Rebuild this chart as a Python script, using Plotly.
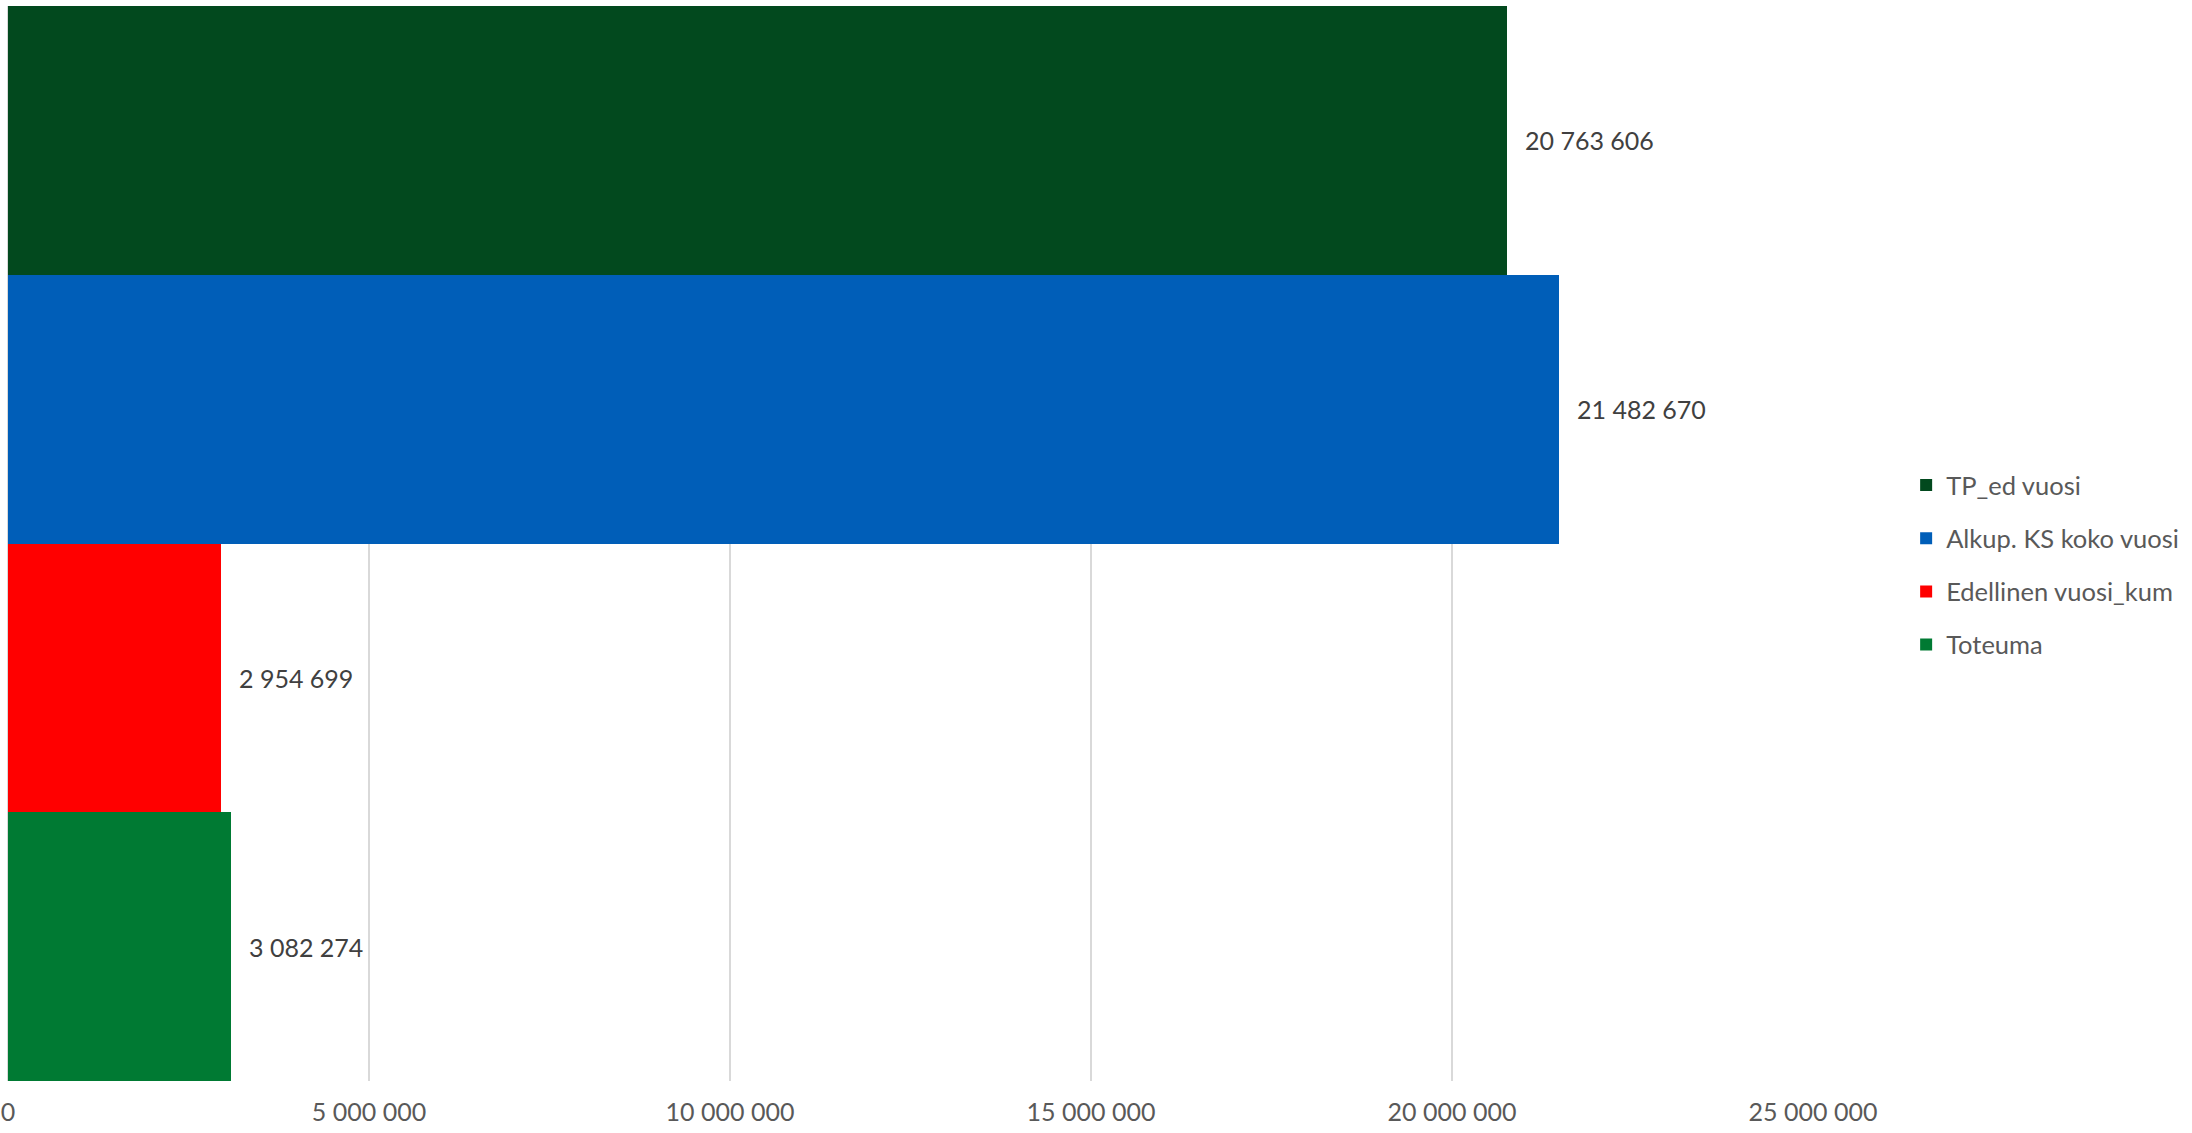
import plotly.graph_objects as go

# ---- data ----
series_names = ["TP_ed vuosi", "Alkup. KS koko vuosi", "Edellinen vuosi_kum", "Toteuma"]
series_values = [20763606, 21482670, 2954699, 3082274]
series_colors = ["#02491E", "#005EB8", "#FF0000", "#007A33"]
tick_values = [0, 5000000, 10000000, 15000000, 20000000, 25000000]

FONT = "Lato, Open Sans, sans-serif"

fig = go.Figure()
for i, (name, val, col) in enumerate(zip(series_names, series_values, series_colors)):
    fig.add_trace(go.Bar(
        x=[val], y=[name], orientation="h", name=name,
        marker=dict(color=col, line=dict(width=0)),
        opacity=1, legendgroup=name, hoverinfo="x+name",
    ))
    fig.add_annotation(
        x=val, y=name, xref="x", yref="y",
        text=f"{val:,}".replace(",", " "),
        showarrow=False, xanchor="left", yanchor="middle", xshift=16,
        font=dict(family=FONT, size=25, color="#404040"),
    )

fig.update_layout(
    width=2192, height=1133,
    margin=dict(l=8, r=379, t=6, b=52),
    paper_bgcolor="white", plot_bgcolor="white",
    barmode="overlay", bargap=0,
    separators=", ",
    font=dict(family=FONT, size=25, color="#595959"),
    showlegend=True,
    legend=dict(
        x=1.0516, y=0.480, xanchor="left", yanchor="middle",
        font=dict(family=FONT, size=25.5, color="#595959"),
        tracegroupgap=17, bgcolor="rgba(0,0,0,0)",
    ),
)
fig.update_xaxes(
    range=[0, 25000000], tickvals=tick_values, tickformat=",.0f",
    showgrid=True, gridcolor="#D9D9D9", gridwidth=2,
    zeroline=True, zerolinecolor="#D9D9D9", zerolinewidth=2,
    showline=False, ticks="", ticklabelstandoff=14, automargin=False,
    tickfont=dict(family=FONT, size=25, color="#595959"),
)
fig.update_yaxes(
    categoryorder="array", categoryarray=series_names, autorange="reversed",
    showticklabels=False, showgrid=False, zeroline=False, showline=False, ticks="",
    automargin=False,
)

fig.write_html(
    "out.html",
    config={"displayModeBar": False},
    post_script="document.body.style.margin='0px';",
)
